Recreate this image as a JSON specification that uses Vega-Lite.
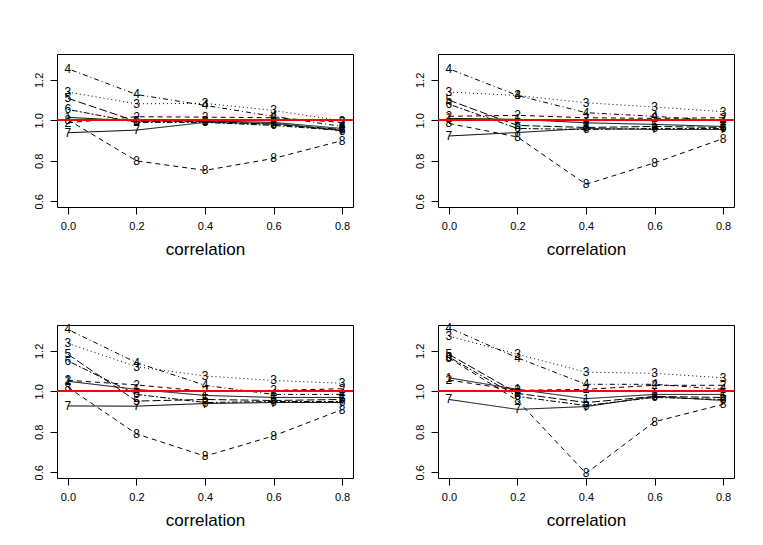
{
  "$schema": "https://vega.github.io/schema/vega-lite/v6.json",
  "background": "white",
  "padding": {"left": 32, "top": 53, "right": 5, "bottom": 5},
  "config": {
    "view": {"stroke": "black", "strokeWidth": 1},
    "axis": {"domain": false, "grid": false, "tickColor": "black", "tickSize": 7, "labelFont": "Liberation Sans", "labelFontSize": 11, "labelColor": "black", "titleFont": "Liberation Sans", "titleFontWeight": "normal", "titleColor": "black"}
  },
  "data": {"values": [
    {"p":1,"s":"1","x":0,"y":1.015},{"p":1,"s":"1","x":0.2,"y":0.997},{"p":1,"s":"1","x":0.4,"y":0.997},{"p":1,"s":"1","x":0.6,"y":0.99},{"p":1,"s":"1","x":0.8,"y":0.96},
    {"p":1,"s":"2","x":0,"y":0.988},{"p":1,"s":"2","x":0.2,"y":1.018},{"p":1,"s":"2","x":0.4,"y":1.016},{"p":1,"s":"2","x":0.6,"y":1.013},{"p":1,"s":"2","x":0.8,"y":0.99},
    {"p":1,"s":"3","x":0,"y":1.14},{"p":1,"s":"3","x":0.2,"y":1.082},{"p":1,"s":"3","x":0.4,"y":1.084},{"p":1,"s":"3","x":0.6,"y":1.049},{"p":1,"s":"3","x":0.8,"y":0.998},
    {"p":1,"s":"4","x":0,"y":1.255},{"p":1,"s":"4","x":0.2,"y":1.128},{"p":1,"s":"4","x":0.4,"y":1.074},{"p":1,"s":"4","x":0.6,"y":1.02},{"p":1,"s":"4","x":0.8,"y":0.97},
    {"p":1,"s":"5","x":0,"y":1.109},{"p":1,"s":"5","x":0.2,"y":0.995},{"p":1,"s":"5","x":0.4,"y":0.995},{"p":1,"s":"5","x":0.6,"y":0.98},{"p":1,"s":"5","x":0.8,"y":0.955},
    {"p":1,"s":"6","x":0,"y":1.054},{"p":1,"s":"6","x":0.2,"y":0.99},{"p":1,"s":"6","x":0.4,"y":0.99},{"p":1,"s":"6","x":0.6,"y":0.975},{"p":1,"s":"6","x":0.8,"y":0.95},
    {"p":1,"s":"7","x":0,"y":0.939},{"p":1,"s":"7","x":0.2,"y":0.952},{"p":1,"s":"7","x":0.4,"y":0.99},{"p":1,"s":"7","x":0.6,"y":0.985},{"p":1,"s":"7","x":0.8,"y":0.95},
    {"p":1,"s":"8","x":0,"y":1.003},{"p":1,"s":"8","x":0.2,"y":0.8},{"p":1,"s":"8","x":0.4,"y":0.753},{"p":1,"s":"8","x":0.6,"y":0.812},{"p":1,"s":"8","x":0.8,"y":0.9},

    {"p":2,"s":"1","x":0,"y":1.01},{"p":2,"s":"1","x":0.2,"y":1.005},{"p":2,"s":"1","x":0.4,"y":0.988},{"p":2,"s":"1","x":0.6,"y":0.98},{"p":2,"s":"1","x":0.8,"y":0.97},
    {"p":2,"s":"2","x":0,"y":1.02},{"p":2,"s":"2","x":0.2,"y":1.025},{"p":2,"s":"2","x":0.4,"y":1.013},{"p":2,"s":"2","x":0.6,"y":1.01},{"p":2,"s":"2","x":0.8,"y":1.013},
    {"p":2,"s":"3","x":0,"y":1.14},{"p":2,"s":"3","x":0.2,"y":1.123},{"p":2,"s":"3","x":0.4,"y":1.087},{"p":2,"s":"3","x":0.6,"y":1.066},{"p":2,"s":"3","x":0.8,"y":1.043},
    {"p":2,"s":"4","x":0,"y":1.255},{"p":2,"s":"4","x":0.2,"y":1.123},{"p":2,"s":"4","x":0.4,"y":1.038},{"p":2,"s":"4","x":0.6,"y":1.02},{"p":2,"s":"4","x":0.8,"y":0.997},
    {"p":2,"s":"5","x":0,"y":1.1},{"p":2,"s":"5","x":0.2,"y":0.975},{"p":2,"s":"5","x":0.4,"y":0.965},{"p":2,"s":"5","x":0.6,"y":0.97},{"p":2,"s":"5","x":0.8,"y":0.965},
    {"p":2,"s":"6","x":0,"y":1.08},{"p":2,"s":"6","x":0.2,"y":0.96},{"p":2,"s":"6","x":0.4,"y":0.955},{"p":2,"s":"6","x":0.6,"y":0.96},{"p":2,"s":"6","x":0.8,"y":0.96},
    {"p":2,"s":"7","x":0,"y":0.923},{"p":2,"s":"7","x":0.2,"y":0.94},{"p":2,"s":"7","x":0.4,"y":0.96},{"p":2,"s":"7","x":0.6,"y":0.955},{"p":2,"s":"7","x":0.8,"y":0.955},
    {"p":2,"s":"8","x":0,"y":0.985},{"p":2,"s":"8","x":0.2,"y":0.918},{"p":2,"s":"8","x":0.4,"y":0.684},{"p":2,"s":"8","x":0.6,"y":0.79},{"p":2,"s":"8","x":0.8,"y":0.91},

    {"p":3,"s":"1","x":0,"y":1.05},{"p":3,"s":"1","x":0.2,"y":1.01},{"p":3,"s":"1","x":0.4,"y":0.98},{"p":3,"s":"1","x":0.6,"y":0.97},{"p":3,"s":"1","x":0.8,"y":0.97},
    {"p":3,"s":"2","x":0,"y":1.055},{"p":3,"s":"2","x":0.2,"y":1.032},{"p":3,"s":"2","x":0.4,"y":1.0},{"p":3,"s":"2","x":0.6,"y":1.005},{"p":3,"s":"2","x":0.8,"y":1.013},
    {"p":3,"s":"3","x":0,"y":1.237},{"p":3,"s":"3","x":0.2,"y":1.122},{"p":3,"s":"3","x":0.4,"y":1.076},{"p":3,"s":"3","x":0.6,"y":1.054},{"p":3,"s":"3","x":0.8,"y":1.04},
    {"p":3,"s":"4","x":0,"y":1.306},{"p":3,"s":"4","x":0.2,"y":1.142},{"p":3,"s":"4","x":0.4,"y":1.03},{"p":3,"s":"4","x":0.6,"y":0.985},{"p":3,"s":"4","x":0.8,"y":0.985},
    {"p":3,"s":"5","x":0,"y":1.183},{"p":3,"s":"5","x":0.2,"y":0.952},{"p":3,"s":"5","x":0.4,"y":0.96},{"p":3,"s":"5","x":0.6,"y":0.955},{"p":3,"s":"5","x":0.8,"y":0.96},
    {"p":3,"s":"6","x":0,"y":1.15},{"p":3,"s":"6","x":0.2,"y":0.985},{"p":3,"s":"6","x":0.4,"y":0.945},{"p":3,"s":"6","x":0.6,"y":0.95},{"p":3,"s":"6","x":0.8,"y":0.95},
    {"p":3,"s":"7","x":0,"y":0.928},{"p":3,"s":"7","x":0.2,"y":0.927},{"p":3,"s":"7","x":0.4,"y":0.94},{"p":3,"s":"7","x":0.6,"y":0.945},{"p":3,"s":"7","x":0.8,"y":0.945},
    {"p":3,"s":"8","x":0,"y":1.02},{"p":3,"s":"8","x":0.2,"y":0.79},{"p":3,"s":"8","x":0.4,"y":0.68},{"p":3,"s":"8","x":0.6,"y":0.78},{"p":3,"s":"8","x":0.8,"y":0.91},

    {"p":4,"s":"1","x":0,"y":1.067},{"p":4,"s":"1","x":0.2,"y":1.01},{"p":4,"s":"1","x":0.4,"y":0.964},{"p":4,"s":"1","x":0.6,"y":0.985},{"p":4,"s":"1","x":0.8,"y":0.985},
    {"p":4,"s":"2","x":0,"y":1.056},{"p":4,"s":"2","x":0.2,"y":1.005},{"p":4,"s":"2","x":0.4,"y":1.01},{"p":4,"s":"2","x":0.6,"y":1.03},{"p":4,"s":"2","x":0.8,"y":1.03},
    {"p":4,"s":"3","x":0,"y":1.273},{"p":4,"s":"3","x":0.2,"y":1.183},{"p":4,"s":"3","x":0.4,"y":1.095},{"p":4,"s":"3","x":0.6,"y":1.089},{"p":4,"s":"3","x":0.8,"y":1.067},
    {"p":4,"s":"4","x":0,"y":1.314},{"p":4,"s":"4","x":0.2,"y":1.166},{"p":4,"s":"4","x":0.4,"y":1.035},{"p":4,"s":"4","x":0.6,"y":1.035},{"p":4,"s":"4","x":0.8,"y":1.01},
    {"p":4,"s":"5","x":0,"y":1.183},{"p":4,"s":"5","x":0.2,"y":0.99},{"p":4,"s":"5","x":0.4,"y":0.945},{"p":4,"s":"5","x":0.6,"y":0.975},{"p":4,"s":"5","x":0.8,"y":0.97},
    {"p":4,"s":"6","x":0,"y":1.17},{"p":4,"s":"6","x":0.2,"y":0.975},{"p":4,"s":"6","x":0.4,"y":0.93},{"p":4,"s":"6","x":0.6,"y":0.97},{"p":4,"s":"6","x":0.8,"y":0.96},
    {"p":4,"s":"7","x":0,"y":0.96},{"p":4,"s":"7","x":0.2,"y":0.911},{"p":4,"s":"7","x":0.4,"y":0.925},{"p":4,"s":"7","x":0.6,"y":0.975},{"p":4,"s":"7","x":0.8,"y":0.955},
    {"p":4,"s":"8","x":0,"y":1.165},{"p":4,"s":"8","x":0.2,"y":0.955},{"p":4,"s":"8","x":0.4,"y":0.595},{"p":4,"s":"8","x":0.6,"y":0.85},{"p":4,"s":"8","x":0.8,"y":0.936}
  ]},
  "spacing": 63,
  "vconcat": [
    {"spacing": 59, "hconcat": [
      {"width": 296, "height": 153, "transform": [{"filter": "datum.p == 1"}], "layer": [
        {"mark": {"type": "line", "color": "black", "strokeWidth": 1},
         "encoding": {
           "x": {"field": "x", "type": "quantitative", "scale": {"domain": [-0.032, 0.832], "nice": false, "zero": false}, "axis": {"values": [0, 0.2, 0.4, 0.6, 0.8], "format": ".1f", "title": "correlation", "titleFontSize": 17, "labelPadding": 6, "titlePadding": 10}},
           "y": {"field": "y", "type": "quantitative", "scale": {"domain": [0.572, 1.328], "nice": false, "zero": false}, "axis": {"values": [0.6, 0.7, 0.8, 0.9, 1.0, 1.1, 1.2, 1.3], "labelExpr": "round(datum.value*10) % 2 == 0 ? format(datum.value, '.1f') : ''", "labelAngle": -90, "labelAlign": "center", "labelBaseline": "bottom", "labelPadding": 6, "title": null}},
           "detail": {"field": "s"},
           "strokeDash": {"field": "s", "type": "nominal", "scale": {"domain": ["1","2","3","4","5","6","7","8"], "range": [[1,0],[5,4],[1,3],[1,3,5,3],[8,3],[2,2,6,2],[1,0],[5,4]]}, "legend": null}
         }},
        {"mark": {"type": "text", "font": "Liberation Sans", "fontSize": 12, "fill": "black"},
         "encoding": {"x": {"field": "x", "type": "quantitative"}, "y": {"field": "y", "type": "quantitative"}, "text": {"field": "s"}}},
        {"mark": {"type": "rule", "color": "#ff0000", "strokeWidth": 1}, "encoding": {"y": {"datum": 1}}}
      ]},
      {"width": 296, "height": 153, "transform": [{"filter": "datum.p == 2"}], "layer": [
        {"mark": {"type": "line", "color": "black", "strokeWidth": 1},
         "encoding": {
           "x": {"field": "x", "type": "quantitative", "scale": {"domain": [-0.032, 0.832], "nice": false, "zero": false}, "axis": {"values": [0, 0.2, 0.4, 0.6, 0.8], "format": ".1f", "title": "correlation", "titleFontSize": 17, "labelPadding": 6, "titlePadding": 10}},
           "y": {"field": "y", "type": "quantitative", "scale": {"domain": [0.572, 1.328], "nice": false, "zero": false}, "axis": {"values": [0.6, 0.7, 0.8, 0.9, 1.0, 1.1, 1.2, 1.3], "labelExpr": "round(datum.value*10) % 2 == 0 ? format(datum.value, '.1f') : ''", "labelAngle": -90, "labelAlign": "center", "labelBaseline": "bottom", "labelPadding": 6, "title": null}},
           "detail": {"field": "s"},
           "strokeDash": {"field": "s", "type": "nominal", "scale": {"domain": ["1","2","3","4","5","6","7","8"], "range": [[1,0],[5,4],[1,3],[1,3,5,3],[8,3],[2,2,6,2],[1,0],[5,4]]}, "legend": null}
         }},
        {"mark": {"type": "text", "font": "Liberation Sans", "fontSize": 12, "fill": "black"},
         "encoding": {"x": {"field": "x", "type": "quantitative"}, "y": {"field": "y", "type": "quantitative"}, "text": {"field": "s"}}},
        {"mark": {"type": "rule", "color": "#ff0000", "strokeWidth": 1}, "encoding": {"y": {"datum": 1}}}
      ]}
    ]},
    {"spacing": 59, "hconcat": [
      {"width": 296, "height": 153, "transform": [{"filter": "datum.p == 3"}], "layer": [
        {"mark": {"type": "line", "color": "black", "strokeWidth": 1},
         "encoding": {
           "x": {"field": "x", "type": "quantitative", "scale": {"domain": [-0.032, 0.832], "nice": false, "zero": false}, "axis": {"values": [0, 0.2, 0.4, 0.6, 0.8], "format": ".1f", "title": "correlation", "titleFontSize": 17, "labelPadding": 6, "titlePadding": 10}},
           "y": {"field": "y", "type": "quantitative", "scale": {"domain": [0.572, 1.328], "nice": false, "zero": false}, "axis": {"values": [0.6, 0.7, 0.8, 0.9, 1.0, 1.1, 1.2, 1.3], "labelExpr": "round(datum.value*10) % 2 == 0 ? format(datum.value, '.1f') : ''", "labelAngle": -90, "labelAlign": "center", "labelBaseline": "bottom", "labelPadding": 6, "title": null}},
           "detail": {"field": "s"},
           "strokeDash": {"field": "s", "type": "nominal", "scale": {"domain": ["1","2","3","4","5","6","7","8"], "range": [[1,0],[5,4],[1,3],[1,3,5,3],[8,3],[2,2,6,2],[1,0],[5,4]]}, "legend": null}
         }},
        {"mark": {"type": "text", "font": "Liberation Sans", "fontSize": 12, "fill": "black"},
         "encoding": {"x": {"field": "x", "type": "quantitative"}, "y": {"field": "y", "type": "quantitative"}, "text": {"field": "s"}}},
        {"mark": {"type": "rule", "color": "#ff0000", "strokeWidth": 1}, "encoding": {"y": {"datum": 1}}}
      ]},
      {"width": 296, "height": 153, "transform": [{"filter": "datum.p == 4"}], "layer": [
        {"mark": {"type": "line", "color": "black", "strokeWidth": 1},
         "encoding": {
           "x": {"field": "x", "type": "quantitative", "scale": {"domain": [-0.032, 0.832], "nice": false, "zero": false}, "axis": {"values": [0, 0.2, 0.4, 0.6, 0.8], "format": ".1f", "title": "correlation", "titleFontSize": 17, "labelPadding": 6, "titlePadding": 10}},
           "y": {"field": "y", "type": "quantitative", "scale": {"domain": [0.572, 1.328], "nice": false, "zero": false}, "axis": {"values": [0.6, 0.7, 0.8, 0.9, 1.0, 1.1, 1.2, 1.3], "labelExpr": "round(datum.value*10) % 2 == 0 ? format(datum.value, '.1f') : ''", "labelAngle": -90, "labelAlign": "center", "labelBaseline": "bottom", "labelPadding": 6, "title": null}},
           "detail": {"field": "s"},
           "strokeDash": {"field": "s", "type": "nominal", "scale": {"domain": ["1","2","3","4","5","6","7","8"], "range": [[1,0],[5,4],[1,3],[1,3,5,3],[8,3],[2,2,6,2],[1,0],[5,4]]}, "legend": null}
         }},
        {"mark": {"type": "text", "font": "Liberation Sans", "fontSize": 12, "fill": "black"},
         "encoding": {"x": {"field": "x", "type": "quantitative"}, "y": {"field": "y", "type": "quantitative"}, "text": {"field": "s"}}},
        {"mark": {"type": "rule", "color": "#ff0000", "strokeWidth": 1}, "encoding": {"y": {"datum": 1}}}
      ]}
    ]}
  ]
}
